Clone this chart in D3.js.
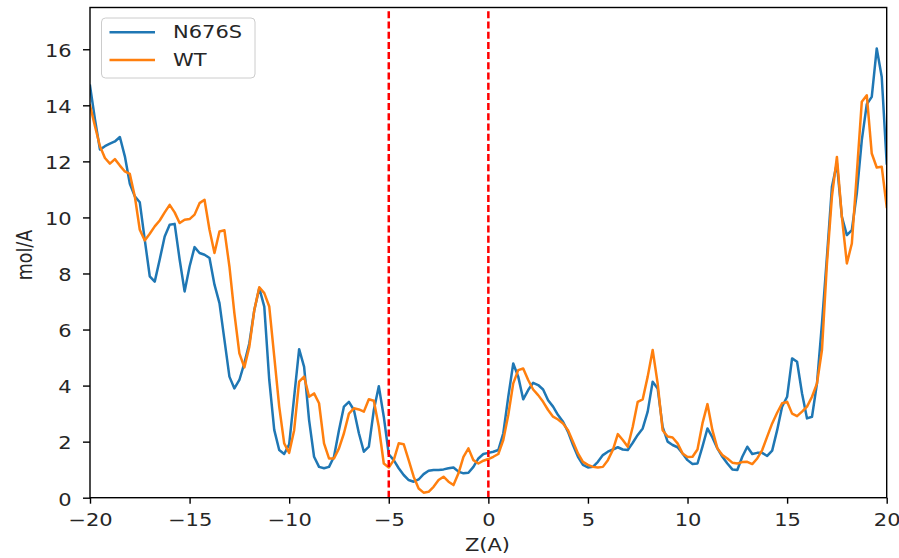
<!DOCTYPE html>
<html>
<head>
<meta charset="utf-8">
<script src="https://cdn.jsdelivr.net/npm/d3@7"></script>
<style>
  html, body { margin: 0; padding: 0; background: #ffffff; }
  svg { display: block; }
  text { font-family: "DejaVu Sans", sans-serif; fill: #262626; }
</style>
</head>
<body>
<script>
// Z positions of the density samples (Å), every 0.25 Å from -20 to 20
const zPositions = d3.range(-20, 20.0001, 0.25);

// Density profile, N676S mutant (mol/Å)
const n676s = [
  14.7, 13.5, 12.42, 12.54, 12.63, 12.71, 12.87, 12.18, 11.2, 10.75,
  10.54, 9.2, 7.9, 7.71, 8.5, 9.32, 9.74, 9.77, 8.5, 7.36,
  8.25, 8.94, 8.73, 8.67, 8.55, 7.6, 6.94, 5.63, 4.32, 3.9,
  4.2, 4.8, 5.51, 6.7, 7.48, 6.82, 4.2, 2.42, 1.7, 1.56,
  1.9, 3.6, 5.3, 4.67, 2.77, 1.46, 1.1, 1.05, 1.1, 1.46,
  2.41, 3.25, 3.42, 3.13, 2.3, 1.64, 1.82, 3.13, 3.98, 2.89,
  1.55, 1.34, 1.05, 0.81, 0.63, 0.57, 0.65, 0.84, 0.96, 0.99,
  0.99, 1.01, 1.05, 1.08, 0.93, 0.87, 0.89, 1.1, 1.4, 1.56,
  1.6, 1.64, 1.7, 2.3, 3.6, 4.79, 4.32, 3.51, 3.84, 4.1,
  4.02, 3.86, 3.48, 3.25, 2.95, 2.71, 2.35, 1.88, 1.46, 1.17,
  1.08, 1.1, 1.28, 1.52, 1.64, 1.72, 1.8, 1.72, 1.7, 1.96,
  2.24, 2.47, 3.07, 4.14, 3.9, 2.53, 2.0, 1.88, 1.8, 1.58,
  1.34, 1.2, 1.22, 1.82, 2.47, 2.15, 1.76, 1.46, 1.22, 1.01,
  0.99, 1.46, 1.82, 1.56, 1.6, 1.6, 1.49, 1.68, 2.41, 3.25,
  3.6, 4.97, 4.85, 3.72, 2.83, 2.89, 4.08, 6.22, 8.6, 11.09,
  11.93, 10.02, 9.37, 9.55, 10.86, 12.76, 14.04, 14.3, 16.03, 15.02,
  11.93
];

// Density profile, wild type (mol/Å)
const wt = [
  14.0, 13.25, 12.54, 12.12, 11.92, 12.08, 11.85, 11.64, 11.55, 10.75,
  9.56, 9.18, 9.42, 9.68, 9.89, 10.18, 10.45, 10.18, 9.8, 9.92,
  9.94, 10.1, 10.51, 10.63, 9.56, 8.73, 9.5, 9.54, 8.25, 6.58,
  5.15, 4.65, 5.39, 6.7, 7.51, 7.3, 6.82, 5.04, 3.25, 1.94,
  1.6, 2.41, 4.14, 4.32, 3.6, 3.72, 3.37, 1.94, 1.4, 1.4,
  1.76, 2.3, 3.0, 3.19, 3.15, 3.07, 3.51, 3.46, 2.53, 1.22,
  1.08, 1.34, 1.94, 1.91, 1.34, 0.75, 0.33, 0.18, 0.21, 0.39,
  0.63, 0.75, 0.57, 0.45, 0.87, 1.46, 1.76, 1.34, 1.22, 1.32,
  1.38, 1.46, 1.56, 2.06, 2.95, 4.08, 4.55, 4.61, 4.2, 3.86,
  3.66, 3.42, 3.13, 2.89, 2.79, 2.65, 2.41, 2.0, 1.58, 1.28,
  1.17, 1.1, 1.08, 1.1, 1.34, 1.7, 2.27, 2.06, 1.82, 2.53,
  3.42, 3.51, 4.32, 5.27, 4.08, 2.41, 2.18, 2.15, 1.94, 1.58,
  1.45, 1.46, 1.72, 2.65, 3.34, 2.41, 1.76, 1.52, 1.4, 1.25,
  1.22, 1.27, 1.28, 1.2, 1.4, 1.7, 2.18, 2.65, 3.03, 3.37,
  3.42, 3.0, 2.91, 3.07, 3.25, 3.6, 4.08, 5.27, 8.36, 10.74,
  12.16, 10.02, 8.36, 9.07, 11.57, 14.13, 14.36, 12.28, 11.78, 11.81,
  10.38
];

// Region boundaries marked with dashed lines (Å)
const boundaries = [-5, 0];

const seriesNames = ["N676S", "WT"];
const seriesColors = ["#1f77b4", "#ff7f0e"];
const xTicks = [-20, -15, -10, -5, 0, 5, 10, 15, 20];
const yTicks = [0, 2, 4, 6, 8, 10, 12, 14, 16];

const W = 899, H = 558;
const plot = { left: 90, right: 886.7, top: 7.5, bottom: 497.7 };
const FONT = 17.5;
const SX = 1.2; // horizontal text stretch

const svg = d3.select("body").append("svg")
  .attr("width", W).attr("height", H);

const x = d3.scaleLinear().domain([-20, 20]).range([plot.left, plot.right]);
const y = d3.scaleLinear().domain([0, 17.49]).range([plot.bottom, plot.top]);

svg.append("defs").append("clipPath").attr("id", "plotclip")
  .append("rect")
  .attr("x", plot.left).attr("y", plot.top)
  .attr("width", plot.right - plot.left).attr("height", plot.bottom - plot.top);

// Data lines
const line = d3.line()
  .x((d, i) => x(zPositions[i]))
  .y(d => y(d));

const lines = svg.append("g").attr("clip-path", "url(#plotclip)");
[n676s, wt].forEach((vals, k) => {
  lines.append("path")
    .datum(vals)
    .attr("d", line)
    .attr("fill", "none")
    .attr("stroke", seriesColors[k])
    .attr("stroke-width", 2.5)
    .attr("stroke-linejoin", "round")
    .attr("stroke-linecap", "square");
});

// Dashed boundary lines
svg.append("g").selectAll("line")
  .data(boundaries)
  .join("line")
  .attr("x1", d => x(d)).attr("x2", d => x(d))
  .attr("y1", plot.bottom).attr("y2", plot.top)
  .attr("stroke", "#ff0000")
  .attr("stroke-width", 2.5)
  .attr("stroke-dasharray", "7,3.2");

// Axes
const xAxis = svg.append("g")
  .attr("transform", `translate(0,${plot.bottom})`)
  .call(d3.axisBottom(x).tickValues(xTicks).tickSizeOuter(0).tickSize(6));
xAxis.select(".domain").remove();
xAxis.selectAll(".tick line").attr("stroke", "#000").attr("stroke-width", 1.4);
xAxis.selectAll(".tick text")
  .attr("y", 28).attr("dy", null)
  .attr("transform", `scale(${SX},1)`)
  .style("font-size", FONT + "px")
  .style("font-family", "DejaVu Sans")
  .attr("fill", "#262626");

const yAxis = svg.append("g")
  .attr("transform", `translate(${plot.left},0)`)
  .call(d3.axisLeft(y).tickValues(yTicks).tickSizeOuter(0).tickSize(7));
yAxis.select(".domain").remove();
yAxis.selectAll(".tick line").attr("stroke", "#000").attr("stroke-width", 1.4);
yAxis.selectAll(".tick text")
  .attr("x", -15.3).attr("dy", 7.3)
  .attr("transform", `scale(${SX},1)`)
  .style("font-size", FONT + "px")
  .style("font-family", "DejaVu Sans")
  .attr("fill", "#262626");

// Frame
svg.append("rect")
  .attr("x", plot.left).attr("y", plot.top)
  .attr("width", plot.right - plot.left).attr("height", plot.bottom - plot.top)
  .attr("fill", "none").attr("stroke", "#000").attr("stroke-width", 1.4);

// Axis titles
svg.append("text")
  .attr("transform", `translate(487.5,551) scale(${SX},1)`)
  .attr("text-anchor", "middle")
  .style("font-size", FONT + "px")
  .text("Z(A)");

svg.append("text")
  .attr("transform", `translate(32,255) scale(${SX},1) rotate(-90)`)
  .attr("text-anchor", "middle")
  .style("font-size", FONT + "px")
  .text("mol/A");

// Legend
const legend = svg.append("g");
legend.append("rect")
  .attr("x", 101.5).attr("y", 18).attr("width", 153.5).attr("height", 60)
  .attr("rx", 4).attr("ry", 4)
  .attr("fill", "#ffffff").attr("fill-opacity", 0.8)
  .attr("stroke", "#cccccc").attr("stroke-width", 1);
const rowY = [32.3, 60];
seriesNames.forEach((name, k) => {
  legend.append("line")
    .attr("x1", 109.5).attr("x2", 155)
    .attr("y1", rowY[k]).attr("y2", rowY[k])
    .attr("stroke", seriesColors[k]).attr("stroke-width", 2.5);
  legend.append("text")
    .attr("transform", `translate(173,${rowY[k] + 6}) scale(${SX},1)`)
    .style("font-size", FONT + "px")
    .text(name);
});
</script>
</body>
</html>
